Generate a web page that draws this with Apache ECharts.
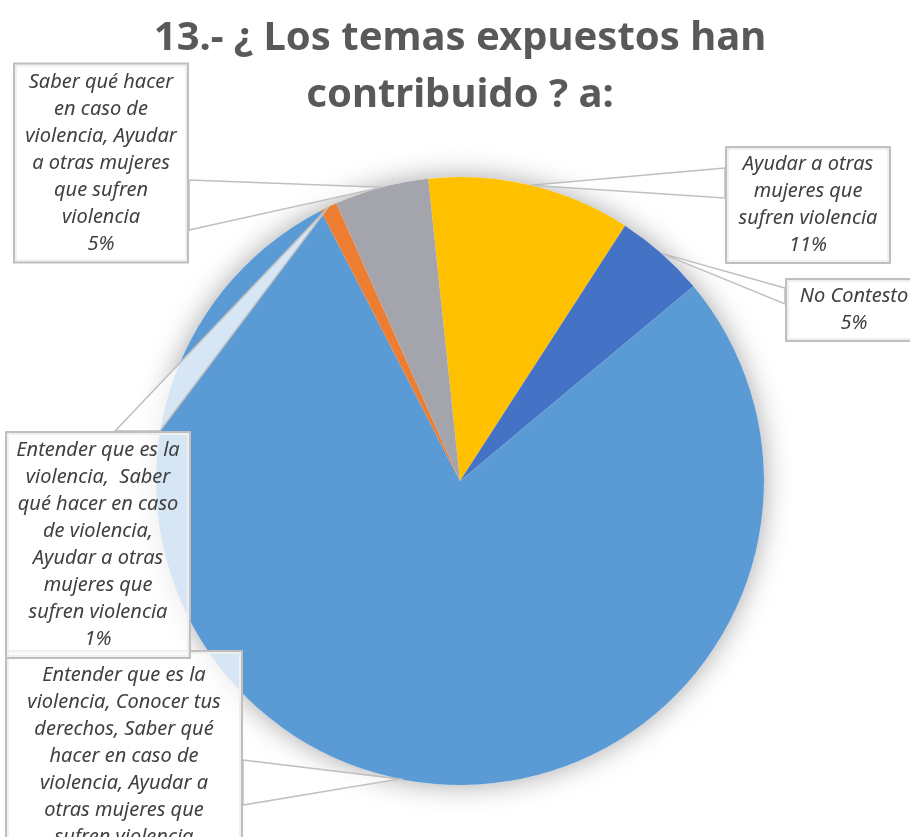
<!DOCTYPE html>
<html>
<head>
<meta charset="utf-8">
<script src="https://cdn.jsdelivr.net/npm/echarts@6/dist/echarts.min.js"></script>
<style>
  html, body { margin: 0; padding: 0; background: #fff; }
  #chart { width: 910px; height: 837px; }
</style>
</head>
<body>
<div id="chart"></div>
<script>
// datos del gráfico (porcentajes)
const categories = [
  'Ayudar a otras\nmujeres que\nsufren violencia',
  'No Contesto',
  'Entender que es la\nviolencia, Conocer tus\nderechos, Saber qué\nhacer en caso de\nviolencia, Ayudar a\notras mujeres que\nsufren violencia',
  'Entender que es la\nviolencia,  Saber\nqué hacer en caso\nde violencia,\nAyudar a otras\nmujeres que\nsufren violencia',
  'Saber qué hacer\nen caso de\nviolencia, Ayudar\na otras mujeres\nque sufren\nviolencia'
];
const values = [10.8, 4.8, 78.5, 0.9, 5.0];
const colors = ['#FFC000', '#4472C4', '#5B9BD5', '#ED7D31', '#A4A4AC'];

// posición de cada cuadro de etiqueta (centro) y lado del puntero
const boxPos = [
  { x: 808, y: 205, w: 150, side: 'left', a: -37, b: -7, pad: [3, 6] },
  { x: 854, y: 310, w: 122, side: 'left', a: -22, b: -6, pad: [3, 6] },
  { x: 124, y: 770, w: 222, side: 'right', a: -10, b: 35, pad: [13, 6, 7, 6] },
  { x: 98, y: 545, w: 170, side: 'top', a: 17, b: 62, pad: [4, 6] },
  { x: 101, y: 163, w: 160, side: 'right', a: 17, b: 67, pad: [4, 6] }
];

const total = values.reduce((s, v) => s + v, 0);
const pointerBase = [];  // puntos de la base de cada puntero (borde del cuadro)
const chart = echarts.init(document.getElementById('chart'));

chart.setOption({
  backgroundColor: '#fff',
  title: {
    text: '13.- ¿ Los temas expuestos han\ncontribuido ? a:',
    left: 460,
    top: 10,
    padding: 0,
    textAlign: 'center',
    textStyle: {
      fontFamily: 'Noto Sans',
      fontSize: 40,
      fontWeight: 'bold',
      lineHeight: 57,
      color: '#595959'
    }
  },
  series: [
    {
      // sombra del círculo
      type: 'pie',
      center: [460, 481],
      radius: 304,
      silent: true,
      z: 1,
      label: { show: false },
      labelLine: { show: false },
      itemStyle: {
        color: '#fff',
        shadowBlur: 28,
        shadowColor: 'rgba(0,0,0,0.35)'
      },
      data: [{ value: total, name: 'total' }]
    },
    {
      type: 'pie',
      center: [460, 481],
      radius: 304,
      startAngle: 96,
      z: 2,
      avoidLabelOverlap: false,
      percentPrecision: 0,
      itemStyle: { borderWidth: 0 },
      emphasis: { disabled: true },
      label: {
        show: true,
        position: 'outside',
        formatter: '{b}\n{d}%',
        fontFamily: 'Noto Sans',
        fontStyle: 'italic',
        fontSize: 20,
        lineHeight: 27,
        color: '#404040',
        align: 'center',
        backgroundColor: 'rgba(255,255,255,0.75)',
        borderColor: '#BFBFBF',
        borderWidth: 2
      },
      labelLine: { show: false },
      labelLayout: function (params) {
        const p = boxPos[params.dataIndex];
        const w = params.labelRect.width;
        const h = params.labelRect.height;
        if (p.side === 'left') {
          const ex = p.x - w / 2;
          pointerBase[params.dataIndex] = [[ex, p.y + p.a], [ex, p.y + p.b]];
        } else if (p.side === 'right') {
          const ex = p.x + w / 2;
          pointerBase[params.dataIndex] = [[ex, p.y + p.a], [ex, p.y + p.b]];
        } else {
          const ey = p.y - h / 2;
          pointerBase[params.dataIndex] = [[p.x + p.a, ey], [p.x + p.b, ey]];
        }
        return { x: p.x, y: p.y, align: 'center', verticalAlign: 'middle' };
      },
      data: categories.map((name, i) => ({
        name: name,
        value: values[i],
        itemStyle: { color: colors[i] },
        label: { width: boxPos[i].w, padding: boxPos[i].pad }
      }))
    }
  ]
});

// punteros de las etiquetas: desde el borde del cuadro hasta el punto medio del arco
const pieData = chart.getModel().getSeriesByIndex(1).getData();
const pointers = categories.map((name, i) => {
  const lay = pieData.getItemLayout(i);
  const mid = (lay.startAngle + lay.endAngle) / 2;
  const tip = [lay.cx + lay.r * Math.cos(mid), lay.cy + lay.r * Math.sin(mid)];
  const base = pointerBase[i];
  return {
    type: 'polygon',
    z: 50,
    silent: true,
    shape: { points: [base[0], tip, base[1]] },
    style: { fill: 'rgba(255,255,255,0.75)', stroke: '#BFBFBF', lineWidth: 1.5 }
  };
});
chart.setOption({ graphic: pointers });
</script>
</body>
</html>
